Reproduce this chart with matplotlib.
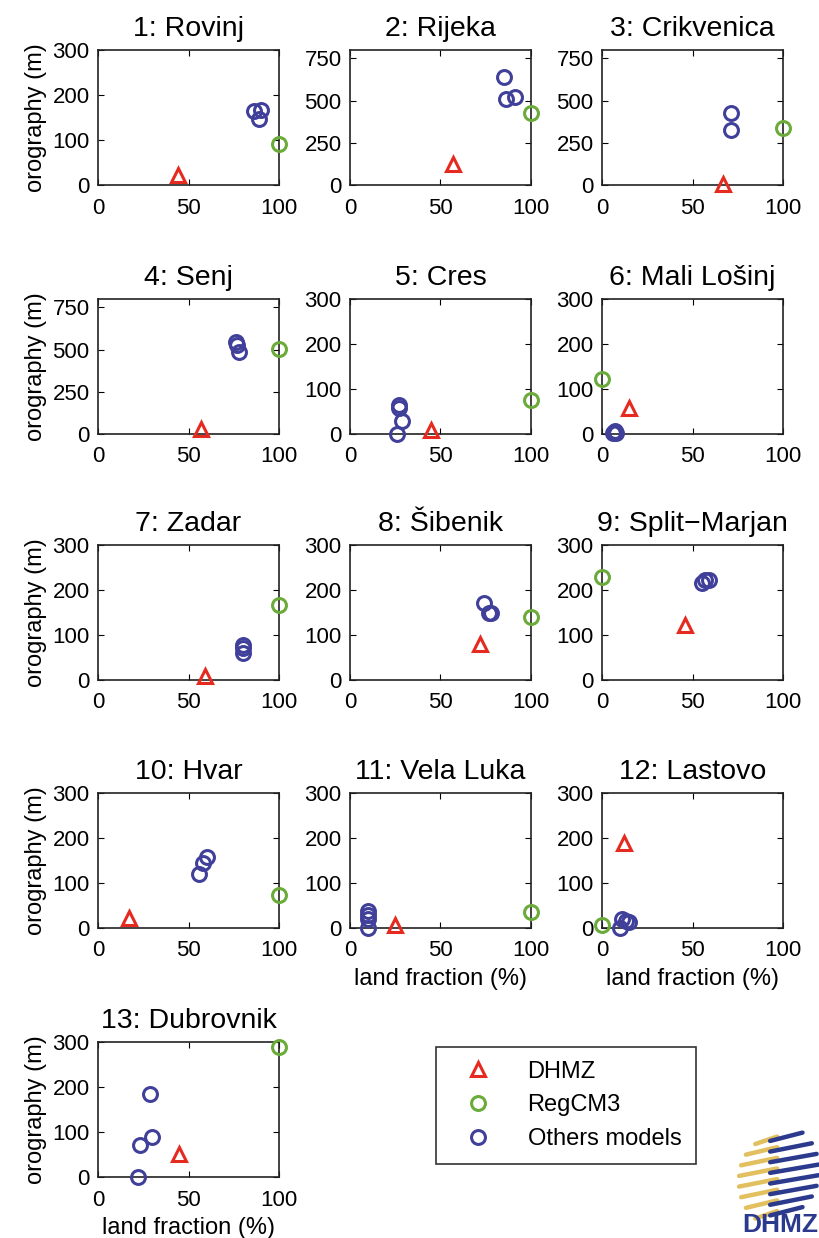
import matplotlib
matplotlib.use('Agg')
import matplotlib.pyplot as plt
from matplotlib.lines import Line2D
import numpy as np

plt.rcParams['font.family'] = ['Liberation Sans', 'DejaVu Sans']

# Названия станций
titles = ['1: Rovinj', '2: Rijeka', '3: Crikvenica', '4: Senj', '5: Cres',
          '6: Mali Lošinj', '7: Zadar', '8: Šibenik', '9: Split−Marjan',
          '10: Hvar', '11: Vela Luka', '12: Lastovo', '13: Dubrovnik']

# DHMZ (станции)
dhmz_x = [44, 57, 67, 57, 45, 15, 59, 72, 46, 17, 25, 12, 45]
dhmz_y = [22, 125, 8, 30, 8, 57, 8, 80, 123, 23, 7, 190, 52]

# RegCM3
regcm_x = [100, 100, 100, 100, 100, 0, 100, 100, 0, 100, 100, 0, 100]
regcm_y = [91, 427, 338, 501, 75, 122, 166, 140, 230, 74, 36, 7, 290]

# Остальные модели
others_x = [[86, 90, 89], [85, 86, 91], [71, 71], [76, 77, 78], [27, 27, 29, 26],
            [6, 7, 8], [80, 80, 80], [74, 77, 78], [55, 57, 59], [56, 58, 60],
            [10, 10, 10, 10], [10, 11, 13, 15], [22, 23, 30, 29]]
others_y = [[165, 167, 147], [640, 512, 520], [427, 323], [545, 525, 485], [64, 58, 28, 0],
            [3, 6, 2], [78, 70, 60], [172, 150, 148], [215, 222, 222], [121, 145, 158],
            [0, 20, 28, 38], [0, 20, 15, 14], [0, 71, 89, 185]]

# Верхняя граница оси Y
ymax = [300, 800, 800, 800, 300, 300, 300, 300, 300, 300, 300, 300, 300]

red = '#e52b20'
green = '#6bab3a'
blue = '#40409a'

W, H = 819, 1238
fig = plt.figure(figsize=(W / 100, H / 100), dpi=100)

col_left = [98, 350, 602]
row_top = [50, 299, 545, 793, 1042]
aw, ah = 181, 135

for i, title in enumerate(titles):
    r, c = divmod(i, 3)
    x0 = col_left[c]
    y0 = row_top[r]
    ax = fig.add_axes([x0 / W, 1 - (y0 + ah) / H, aw / W, ah / H])

    ax.plot(others_x[i], others_y[i], 'o', mfc='none', mec=blue, ms=10, mew=2.2,
            clip_on=False, zorder=3)
    ax.plot(regcm_x[i], regcm_y[i], 'o', mfc='none', mec=green, ms=10, mew=2.2,
            clip_on=False, zorder=3)
    ax.plot(dhmz_x[i], dhmz_y[i], '^', mfc='none', mec=red, ms=10.5, mew=2.2,
            clip_on=False, zorder=3)

    ax.set_xlim(0, 100)
    ax.set_ylim(0, ymax[i])
    ax.set_xticks([0, 50, 100])
    if ymax[i] == 800:
        ax.set_yticks([0, 250, 500, 750])
    else:
        ax.set_yticks([0, 100, 200, 300])

    ax.tick_params(direction='in', length=4, width=0.8, top=True, right=True,
                   labelsize=16)
    ax.tick_params(axis='x', pad=9)
    ax.tick_params(axis='y', pad=6)
    for sp in ax.spines.values():
        sp.set_linewidth(1.2)
        sp.set_color('#222222')

    ax.set_title(title, fontsize=20.5, pad=10)

    if c == 0:
        ax.set_ylabel('orography (m)', fontsize=17, labelpad=4)
    if i >= 10:
        ax.set_xlabel('land fraction (%)', fontsize=17, labelpad=5)

# Легенда
handles = [
    Line2D([], [], ls='none', marker='^', mfc='none', mec=red, ms=10.5, mew=2.2),
    Line2D([], [], ls='none', marker='o', mfc='none', mec=green, ms=10, mew=2.2),
    Line2D([], [], ls='none', marker='o', mfc='none', mec=blue, ms=10, mew=2.2),
]
leg = fig.legend(handles, ['DHMZ', 'RegCM3', 'Others models'], loc='center',
                 bbox_to_anchor=((436 + 695) / 2 / W, 1 - (1050 + 1161) / 2 / H),
                 fontsize=17, frameon=True, fancybox=False, edgecolor='black',
                 handlelength=2.4, handletextpad=0.9, borderpad=0.6, labelspacing=0.5)
leg.get_frame().set_linewidth(1.2)

# Логотип DHMZ (упрощённый шар из полос)
lax = fig.add_axes([737 / W, 1 - 1222 / H, 82 / W, 92 / H])
lax.set_xlim(-1.05, 1.3)
lax.set_ylim(-1.05, 1.05)
lax.axis('off')
for yy in np.linspace(-0.85, 0.85, 8):
    half = np.sqrt(1 - yy ** 2)
    lax.plot([-half, 0.1], [yy - 0.12, yy + 0.05], color='#e2c060', lw=3.2,
             solid_capstyle='round')
    lax.plot([-0.1, half + 0.3], [yy - 0.05, yy + 0.14], color='#2b3a8c', lw=3.2,
             solid_capstyle='round')
fig.text(818 / W, 1 - 1237 / H, 'DHMZ', fontsize=19, fontweight='bold', color='#2b3a8c',
         ha='right', va='bottom')

plt.savefig('out.png', dpi=100)
plt.close()
